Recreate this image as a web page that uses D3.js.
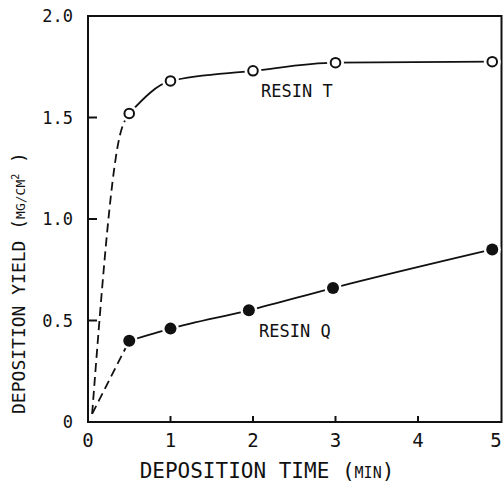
<!DOCTYPE html>
<html>
<head>
<meta charset="utf-8">
<script src="https://cdn.jsdelivr.net/npm/d3@7"></script>
<style>
  body { margin: 0; background: #fff; }
  text { font-family: "DejaVu Sans Mono", "Liberation Mono", monospace; fill: #111; }
</style>
</head>
<body>
<div id="chart"></div>
<script>
// Deposition yield vs time, two resins
const timesT = [0.5, 1.0, 2.0, 3.0, 4.9];
const yieldT = [1.52, 1.68, 1.73, 1.77, 1.775];
const timesQ = [0.5, 1.0, 1.95, 2.97, 4.9];
const yieldQ = [0.40, 0.46, 0.55, 0.66, 0.85];

// dashed start-up part
const riseT = [[0.05, 0.04], [0.38, 1.40], [0.5, 1.52]];
const riseQ = [[0.05, 0.04], [0.5, 0.40]];

const xTicks = [0, 1, 2, 3, 4, 5];
const yTicks = [0, 0.5, 1.0, 1.5, 2.0];
const yTickLabels = ["0", "0.5", "1.0", "1.5", "2.0"];

const width = 503, height = 485;

const svg = d3.select("#chart").append("svg")
    .attr("width", width)
    .attr("height", height);

const x = d3.scaleLinear().domain([0, 5]).range([88, 500.5]);
const y = d3.scaleLinear().domain([0, 2]).range([422, 16]);

// frame
svg.append("rect")
    .attr("x", x(0))
    .attr("y", y(2))
    .attr("width", width - 1.5 - x(0))
    .attr("height", y(0) - y(2))
    .attr("fill", "none")
    .attr("stroke", "#111")
    .attr("stroke-width", 2);

// inward ticks
svg.selectAll(".ytick")
    .data(yTicks.filter(d => d > 0 && d < 2))
    .enter().append("line")
    .attr("x1", x(0)).attr("x2", x(0) + 9)
    .attr("y1", d => y(d)).attr("y2", d => y(d))
    .attr("stroke", "#111").attr("stroke-width", 2);

svg.selectAll(".xtick")
    .data(xTicks.filter(d => d > 0 && d < 5))
    .enter().append("line")
    .attr("x1", d => x(d)).attr("x2", d => x(d))
    .attr("y1", y(0)).attr("y2", y(0) - 6)
    .attr("stroke", "#111").attr("stroke-width", 2);

// tick labels
svg.selectAll(".ylab")
    .data(yTicks)
    .enter().append("text")
    .attr("x", 73)
    .attr("y", d => y(d))
    .attr("dy", "0.36em")
    .attr("text-anchor", "end")
    .style("font-size", "17px")
    .text((d, i) => yTickLabels[i]);

svg.selectAll(".xlab")
    .data(xTicks)
    .enter().append("text")
    .attr("x", d => Math.min(x(d), width - 7))
    .attr("y", 440)
    .attr("dy", "0.36em")
    .attr("text-anchor", "middle")
    .style("font-size", "19px")
    .text(d => d);

// axis titles
const xt = svg.append("text")
    .attr("x", 267)
    .attr("y", 478)
    .attr("text-anchor", "middle")
    .style("font-size", "21px");
xt.append("tspan").text("DEPOSITION TIME (");
xt.append("tspan").style("font-size", "15px").text("MIN");
xt.append("tspan").text(")");

const yt = svg.append("text")
    .attr("transform", "translate(25,283) rotate(-90)")
    .attr("text-anchor", "middle")
    .style("font-size", "18px");
yt.append("tspan").text("DEPOSITION YIELD (");
yt.append("tspan").style("font-size", "13px").text("MG/CM");
yt.append("tspan").style("font-size", "10px").attr("dy", "-6").text("2");
yt.append("tspan").attr("dy", "6").text(" )");

// curves
const solid = d3.line().x(d => x(d[0])).y(d => y(d[1])).curve(d3.curveMonotoneX);
const dashed = d3.line().x(d => x(d[0])).y(d => y(d[1])).curve(d3.curveMonotoneX);

const ptsT = timesT.map((t, i) => [t, yieldT[i]]);
const ptsQ = timesQ.map((t, i) => [t, yieldQ[i]]);

[riseT, riseQ].forEach(r => {
    svg.append("path")
        .attr("d", dashed(r))
        .attr("fill", "none")
        .attr("stroke", "#111")
        .attr("stroke-width", 1.8)
        .attr("stroke-dasharray", "9,5");
});

[ptsT, ptsQ].forEach(p => {
    svg.append("path")
        .attr("d", solid(p))
        .attr("fill", "none")
        .attr("stroke", "#111")
        .attr("stroke-width", 1.8);
});

// white halos make the small gaps round the markers
svg.selectAll(".halo")
    .data(ptsT.concat(ptsQ))
    .enter().append("circle")
    .attr("cx", d => x(d[0]))
    .attr("cy", d => y(d[1]))
    .attr("r", 8.5)
    .attr("fill", "#fff");

svg.selectAll(".ptT")
    .data(ptsT)
    .enter().append("circle")
    .attr("cx", d => x(d[0]))
    .attr("cy", d => y(d[1]))
    .attr("r", 4.8)
    .attr("fill", "#fff")
    .attr("stroke", "#111")
    .attr("stroke-width", 2);

svg.selectAll(".ptQ")
    .data(ptsQ)
    .enter().append("circle")
    .attr("cx", d => x(d[0]))
    .attr("cy", d => y(d[1]))
    .attr("r", 6)
    .attr("fill", "#111");

// series labels
svg.append("text")
    .attr("x", 261).attr("y", 97)
    .style("font-size", "17px")
    .text("RESIN T");

svg.append("text")
    .attr("x", 259).attr("y", 337)
    .style("font-size", "17px")
    .text("RESIN Q");
</script>
</body>
</html>
